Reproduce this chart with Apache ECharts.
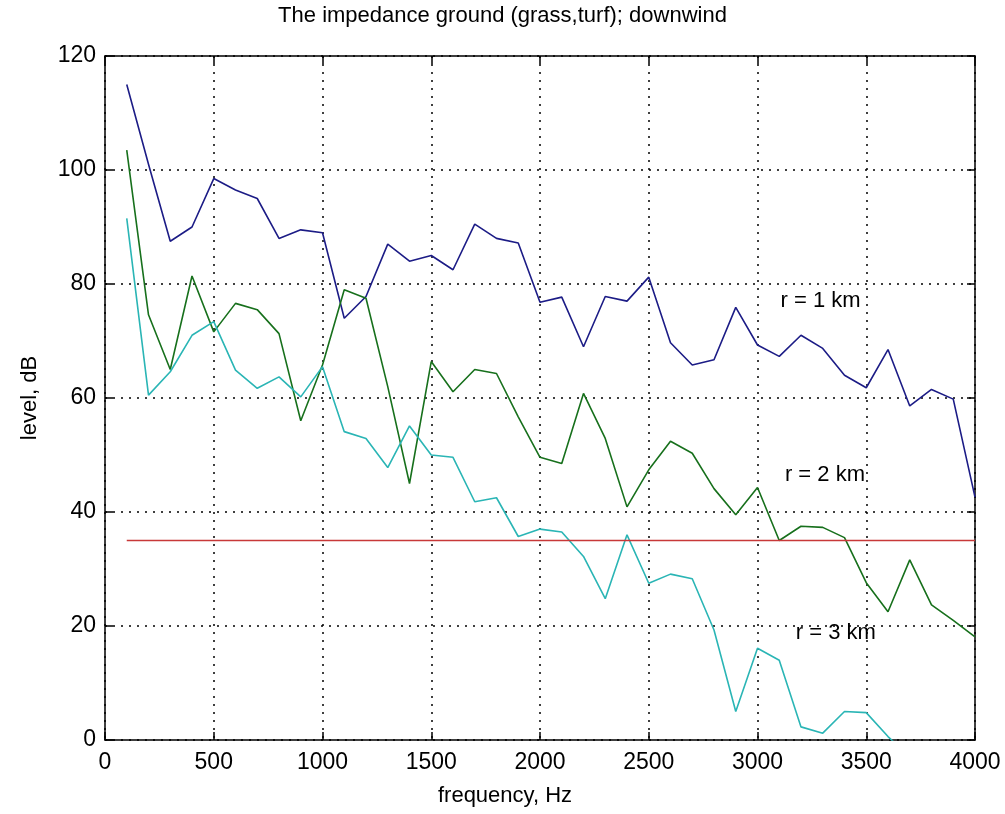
<!DOCTYPE html>
<html>
<head>
<meta charset="utf-8">
<script src="https://cdn.jsdelivr.net/npm/echarts@6/dist/echarts.min.js"></script>
<style>
  html, body { margin: 0; padding: 0; background: #fff; }
  #chart { width: 1005px; height: 814px; }
</style>
</head>
<body>
<div id="chart"></div>
<script>
// frequency points, Hz
const freqs = [100, 200, 300, 400, 500, 600, 700, 800, 900, 1000,
  1100, 1200, 1300, 1400, 1500, 1600, 1700, 1800, 1900, 2000,
  2100, 2200, 2300, 2400, 2500, 2600, 2700, 2800, 2900, 3000,
  3100, 3200, 3300, 3400, 3500, 3600, 3700, 3800, 3900, 4000];

// r = 1 km
const level1km = [115, 101, 87.5, 90, 98.5, 96.5, 95, 88, 89.5, 89,
  74, 77.8, 87, 84, 85, 82.5, 90.5, 88, 87.2, 76.8,
  77.7, 69, 77.8, 77, 81.2, 69.7, 65.8, 66.7, 75.9, 69.3,
  67.3, 71, 68.7, 64, 61.8, 68.5, 58.6, 61.5, 59.8, 42.6];

// r = 2 km
const level2km = [103.5, 74.6, 65, 81.4, 71.6, 76.6, 75.5, 71.3, 56, 65.8,
  79, 77.5, 62, 45, 66.4, 61.1, 65, 64.3, 56.7, 49.6,
  48.5, 60.8, 52.9, 40.9, 47.4, 52.4, 50.3, 44.1, 39.5, 44.3,
  35, 37.5, 37.3, 35.5, 27.6, 22.5, 31.6, 23.7, 21, 18.1];

// r = 3 km
const level3km = [91.5, 60.5, 64.6, 71, 73.4, 64.9, 61.7, 63.7, 60.2, 65.5,
  54.1, 52.9, 47.8, 55.1, 50, 49.6, 41.8, 42.5, 35.7, 37,
  36.5, 32.2, 24.8, 36, 27.5, 29.1, 28.3, 19.3, 5, 16.1,
  14, 2.3, 1.2, 5, 4.8, 0.6, -3, null, null, null];

// threshold level, dB
const threshold = 35;
const thresholdRange = [100, 4000];

const xTicks = { min: 0, max: 4000, interval: 500 };
const yTicks = { min: 0, max: 120, interval: 20 };

const curveLabels = [
  { text: 'r = 1 km', freq: 3290, level: 77 },
  { text: 'r = 2 km', freq: 3310, level: 46.5 },
  { text: 'r = 3 km', freq: 3360, level: 18.7 }
];

const font = 'Liberation Sans, Arial, sans-serif';

function pairs (ys) {
  return freqs.map((f, i) => [f, ys[i]]);
}

const chart = echarts.init(document.getElementById('chart'));

const frameAxis = {
  axisLine: { show: true, onZero: false, lineStyle: { color: '#000', width: 1.5 } },
  axisTick: { show: true, inside: true, length: 8, lineStyle: { color: '#000', width: 1.5 } },
  axisLabel: { show: false },
  splitLine: { show: false }
};

const option = {
  backgroundColor: '#fff',
  animation: false,
  title: {
    text: 'The impedance ground (grass,turf); downwind',
    left: 'center',
    top: 0,
    textStyle: { fontFamily: font, fontSize: 22, fontWeight: 'normal', color: '#000' }
  },
  grid: { left: 105, right: 30, top: 56, bottom: 74 },
  xAxis: [{
    type: 'value',
    position: 'bottom',
    min: xTicks.min, max: xTicks.max, interval: xTicks.interval,
    name: 'frequency, Hz',
    nameLocation: 'middle',
    nameGap: 45,
    nameTextStyle: { fontFamily: font, fontSize: 22, color: '#000', padding: [0, 70, 0, 0] },
    axisLine: { show: true, onZero: false, lineStyle: { color: '#000', width: 1.5 } },
    axisTick: { show: true, inside: true, length: 8, lineStyle: { color: '#000', width: 1.5 } },
    axisLabel: { fontFamily: font, fontSize: 23, color: '#000', margin: 11, formatter: v => String(v) },
    splitLine: { show: true, lineStyle: { color: '#000', type: [2, 6], width: 1.5 } }
  }, Object.assign({
    type: 'value', position: 'top',
    min: xTicks.min, max: xTicks.max, interval: xTicks.interval
  }, frameAxis)],
  yAxis: [{
    type: 'value',
    position: 'left',
    min: yTicks.min, max: yTicks.max, interval: yTicks.interval,
    name: 'level, dB',
    nameLocation: 'middle',
    nameGap: 64,
    nameTextStyle: { fontFamily: font, fontSize: 22, color: '#000' },
    axisLine: { show: true, onZero: false, lineStyle: { color: '#000', width: 1.5 } },
    axisTick: { show: true, inside: true, length: 8, lineStyle: { color: '#000', width: 1.5 } },
    axisLabel: { fontFamily: font, fontSize: 23, color: '#000', margin: 9, formatter: v => String(v) },
    splitLine: { show: true, lineStyle: { color: '#000', type: [2, 6], width: 1.5 } }
  }, Object.assign({
    type: 'value', position: 'right',
    min: yTicks.min, max: yTicks.max, interval: yTicks.interval
  }, frameAxis)],
  series: [{
    name: 'r = 1 km',
    type: 'line',
    data: pairs(level1km),
    symbol: 'none',
    clip: true,
    lineStyle: { color: '#1c1c86', width: 1.6 }
  }, {
    name: 'r = 2 km',
    type: 'line',
    data: pairs(level2km),
    symbol: 'none',
    clip: true,
    lineStyle: { color: '#17701c', width: 1.6 }
  }, {
    name: 'r = 3 km',
    type: 'line',
    data: pairs(level3km),
    symbol: 'none',
    clip: true,
    lineStyle: { color: '#2ab5b5', width: 1.6 }
  }, {
    name: 'threshold',
    type: 'line',
    data: thresholdRange.map(f => [f, threshold]),
    symbol: 'none',
    lineStyle: { color: '#c83838', width: 1.6 },
    markPoint: {
      symbol: 'circle',
      symbolSize: 0,
      silent: true,
      label: {
        show: true,
        position: 'inside',
        fontFamily: font,
        fontSize: 22,
        color: '#000',
        formatter: p => p.name
      },
      data: curveLabels.map(l => ({ name: l.text, coord: [l.freq, l.level] }))
    }
  }]
};

chart.setOption(option);
</script>
</body>
</html>
